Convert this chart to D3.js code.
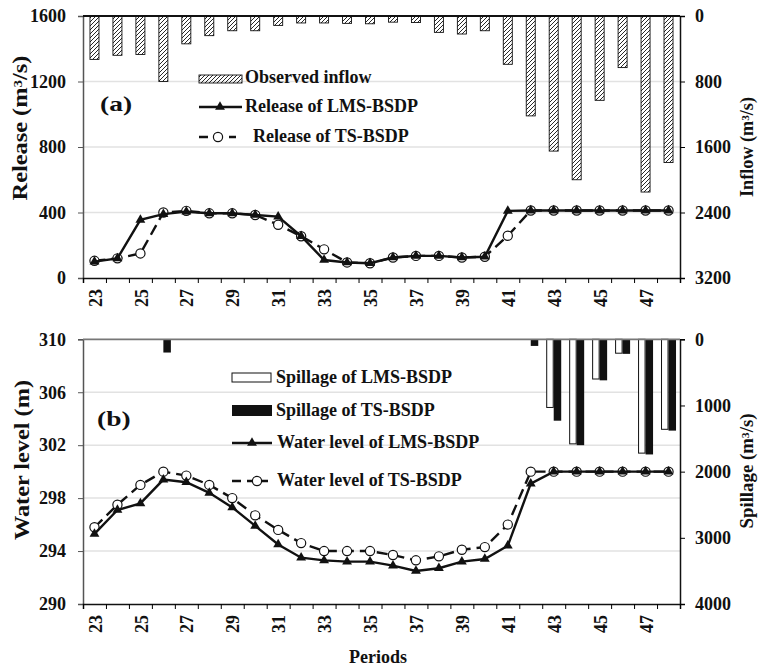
<!DOCTYPE html>
<html>
<head>
<meta charset="utf-8">
<script src="https://cdn.jsdelivr.net/npm/d3@7"></script>
<style>
  body { margin: 0; background: #fff; }
  svg text { font-family: "Liberation Serif", "Times New Roman", serif; font-weight: bold; fill: #111; }
</style>
</head>
<body>
<svg id="thesvg" width="758" height="670"></svg>
<script>
'use strict';

// periods on the x axis
let periods = [23, 24, 25, 26, 27, 28, 29, 30, 31, 32, 33, 34, 35,
               36, 37, 38, 39, 40, 41, 42, 43, 44, 45, 46, 47, 48];

// panel (a): observed inflow and releases (m3/s)
let inflow     = [530, 480, 470, 800, 340, 240, 180, 180, 115, 85, 85, 90, 95,
                  75, 80, 200, 220, 180, 590, 1220, 1650, 2000, 1030, 630, 2150, 1790];
let releaseLMS = [100, 120, 355, 390, 405, 395, 395, 385, 375, 255, 110, 95, 90,
                  125, 135, 135, 125, 130, 410, 412, 412, 412, 412, 412, 412, 412];
let releaseTS  = [105, 120, 150, 400, 410, 395, 395, 385, 325, 255, 175, 95, 90,
                  125, 135, 135, 125, 130, 258, 412, 412, 412, 412, 412, 412, 412];

// panel (b): spillage (m3/s) and water level (m)
let spillLMS = [0, 0, 0, 0, 0, 0, 0, 0, 0, 0, 0, 0, 0,
                0, 0, 0, 0, 0, 0, 0, 1030, 1580, 600, 210, 1720, 1360];
let spillTS  = [0, 0, 0, 200, 0, 0, 0, 0, 0, 0, 0, 0, 0,
                0, 0, 0, 0, 0, 0, 100, 1230, 1600, 620, 220, 1740, 1380];
let levelLMS = [295.3, 297.1, 297.6, 299.4, 299.2, 298.4, 297.3, 295.9, 294.5, 293.5, 293.3, 293.2, 293.2,
                292.9, 292.5, 292.7, 293.2, 293.4, 294.4, 299.1, 300, 300, 300, 300, 300, 300];
let levelTS  = [295.8, 297.5, 299.0, 300.0, 299.7, 299.0, 298.0, 296.7, 295.6, 294.6, 294.0, 294.0, 294.0,
                293.7, 293.3, 293.6, 294.1, 294.3, 296.0, 300, 300, 300, 300, 300, 300, 300];

let releaseTicks = [0, 400, 800, 1200, 1600],
    inflowTicks  = [0, 800, 1600, 2400, 3200],
    levelTicks   = [290, 294, 298, 302, 306, 310],
    spillTicks   = [0, 1000, 2000, 3000, 4000];

var svg = d3.select("#thesvg"),
    left = 83, right = 680,
    pa = {top: 16, bottom: 278},
    pb = {top: 339.3, bottom: 604};

var x  = d3.scaleBand().domain(periods).range([left, right]),
    xi = d3.scaleLinear().domain([0, periods.length]).range([left, right]),
    bw = x.bandwidth();

var yRel = d3.scaleLinear().domain([0, 1600]).range([pa.bottom, pa.top]),
    yIn  = d3.scaleLinear().domain([0, 3200]).range([pa.top, pa.bottom]),
    yWl  = d3.scaleLinear().domain([290, 310]).range([pb.bottom, pb.top]),
    ySp  = d3.scaleLinear().domain([0, 4000]).range([pb.top, pb.bottom]);

var defs = svg.append("defs");
defs.append("pattern")
    .attr("id", "hatch")
    .attr("patternUnits", "userSpaceOnUse")
    .attr("width", 4).attr("height", 4)
  .append("path")
    .attr("d", "M-1,1 l2,-2 M0,4 l4,-4 M3,5 l2,-2")
    .attr("stroke", "#111")
    .attr("stroke-width", 0.9);

function cx(i) { return x(periods[i]) + bw / 2; }

function grid(yS, vals) {
  svg.append("g").selectAll("line")
      .data(vals)
    .enter().append("line")
      .attr("x1", left).attr("x2", right)
      .attr("y1", function(d) { return yS(d); })
      .attr("y2", function(d) { return yS(d); })
      .attr("stroke", "#e2e2e2")
      .attr("stroke-width", 1.5);
}

function axes(yL, ticksL, yR, ticksR, bottom, topColor) {
  let fmt = d3.format("d");
  let gl = svg.append("g")
      .attr("transform", "translate(" + left + ",0)")
      .call(d3.axisLeft(yL).tickValues(ticksL).tickSize(5).tickPadding(12).tickFormat(fmt));
  gl.select(".domain").attr("stroke", "#555").attr("stroke-width", 1.5);
  gl.selectAll(".tick line").attr("stroke", "#555");

  let gr = svg.append("g")
      .attr("transform", "translate(" + right + ",0)")
      .call(d3.axisRight(yR).tickValues(ticksR).tickSize(5).tickPadding(10).tickFormat(fmt));
  gr.select(".domain").attr("stroke", "#111").attr("stroke-width", 1.5);

  svg.selectAll("g.tick text")
      .style("font-size", "18px")
      .attr("fill", "#111");

  // top line (zero of the hanging bars)
  svg.append("line")
      .attr("x1", left).attr("x2", right)
      .attr("y1", yR(0)).attr("y2", yR(0))
      .attr("stroke", topColor)
      .attr("stroke-width", 1.8);

  // x axis: ticks at band edges, labels on odd periods
  let gx = svg.append("g")
      .attr("transform", "translate(0," + bottom + ")")
      .call(d3.axisBottom(xi).ticks(periods.length).tickSize(5).tickFormat(""));
  gx.select(".domain").attr("stroke", "#111").attr("stroke-width", 1.5);

  svg.append("g").selectAll("text")
      .data(periods.filter(function(p) { return p % 2 === 1; }))
    .enter().append("text")
      .attr("transform", function(p) {
        return "translate(" + (x(p) + bw / 2 + 1) + "," + (bottom + 11) + ") rotate(-90)";
      })
      .attr("text-anchor", "end")
      .attr("dy", "0.34em")
      .style("font-size", "18px")
      .text(function(p) { return p; });
}

function series(yS, vals, solid) {
  let line = d3.line()
      .x(function(d, i) { return cx(i); })
      .y(function(d) { return yS(d); });
  svg.append("path")
      .datum(vals)
      .attr("d", line)
      .attr("fill", "none")
      .attr("stroke", "#111")
      .attr("stroke-width", 2.4)
      .attr("stroke-dasharray", solid ? null : "11,6");
  let g = svg.append("g");
  if (solid) {
    g.selectAll("path")
        .data(vals)
      .enter().append("path")
        .attr("d", d3.symbol(d3.symbolTriangle).size(42))
        .attr("transform", function(d, i) { return "translate(" + cx(i) + "," + yS(d) + ")"; })
        .attr("fill", "#111");
  } else {
    g.selectAll("circle")
        .data(vals)
      .enter().append("circle")
        .attr("cx", function(d, i) { return cx(i); })
        .attr("cy", function(d) { return yS(d); })
        .attr("r", 4.6)
        .attr("fill", "#fff")
        .attr("stroke", "#111")
        .attr("stroke-width", 1.2);
  }
}

function legLine(x0, x1, y, mx, solid) {
  svg.append("line")
      .attr("x1", x0).attr("x2", x1).attr("y1", y).attr("y2", y)
      .attr("stroke", "#111").attr("stroke-width", 2.4)
      .attr("stroke-dasharray", solid ? null : "9,6");
  if (solid) {
    svg.append("path")
        .attr("d", d3.symbol(d3.symbolTriangle).size(42))
        .attr("transform", "translate(" + mx + "," + y + ")")
        .attr("fill", "#111");
  } else {
    svg.append("circle")
        .attr("cx", mx).attr("cy", y).attr("r", 4.6)
        .attr("fill", "#fff").attr("stroke", "#111").attr("stroke-width", 1.2);
  }
}

function label(txt, x0, y0) {
  svg.append("text").attr("x", x0).attr("y", y0)
      .style("font-size", "18px").text(txt);
}

// rotated axis title stretched to the length seen in the picture
function title(parts, bx, cy, len, size) {
  let t = svg.append("text")
      .attr("text-anchor", "middle")
      .style("font-size", size + "px");
  t.append("tspan").text(parts[0]);
  if (parts.length > 1) {
    t.append("tspan").attr("dy", "-0.4em").style("font-size", "0.62em").text(parts[1]);
    t.append("tspan").attr("dy", "0.25em").text(parts[2]);
  }
  let w = t.node().getComputedTextLength();
  t.attr("transform", "translate(" + bx + "," + cy + ") rotate(-90) scale(" + (len / w) + ",1)");
}

// ---------- panel (a) ----------
grid(yRel, [400, 800, 1200]);

svg.append("g").selectAll("rect")
    .data(inflow)
  .enter().append("rect")
    .attr("x", function(d, i) { return cx(i) - 4.5; })
    .attr("y", yIn(0))
    .attr("width", 9)
    .attr("height", function(d) { return yIn(d) - yIn(0); })
    .attr("fill", "url(#hatch)")
    .attr("stroke", "#111")
    .attr("stroke-width", 0.9);

axes(yRel, releaseTicks, yIn, inflowTicks, pa.bottom, "#111");
series(yRel, releaseTS, false);
series(yRel, releaseLMS, true);

svg.append("rect")
    .attr("x", 199).attr("y", 75).attr("width", 43).attr("height", 8)
    .attr("fill", "url(#hatch)").attr("stroke", "#111").attr("stroke-width", 0.9);
label("Observed inflow", 245, 83);
legLine(199, 242, 107, 220, true);
label("Release of LMS-BSDP", 245, 112);
legLine(199, 236, 137, 218, false);
label("Release of TS-BSDP", 253, 142);

svg.append("text").attr("transform", "translate(100,111) scale(1.25,1)")
    .style("font-size", "22px").text("(a)");

title(["Release (m", "3", "/s)"], 27, 128, 145, 20);
title(["Inflow (m", "3", "/s)"], 753, 147, 100, 18);

// ---------- panel (b) ----------
grid(yWl, [294, 298, 302, 306]);

svg.append("g").selectAll("rect")
    .data(spillLMS.map(function(d, i) { return {i: i, v: d}; }).filter(function(d) { return d.v > 0; }))
  .enter().append("rect")
    .attr("x", function(d) { return cx(d.i) - 7; })
    .attr("y", ySp(0))
    .attr("width", 6.5)
    .attr("height", function(d) { return ySp(d.v) - ySp(0); })
    .attr("fill", "#fff")
    .attr("stroke", "#111")
    .attr("stroke-width", 1);

svg.append("g").selectAll("rect")
    .data(spillTS.map(function(d, i) { return {i: i, v: d}; }).filter(function(d) { return d.v > 0; }))
  .enter().append("rect")
    .attr("x", function(d) { return cx(d.i); })
    .attr("y", ySp(0))
    .attr("width", 7.5)
    .attr("height", function(d) { return ySp(d.v) - ySp(0); })
    .attr("fill", "#111");

axes(yWl, levelTicks, ySp, spillTicks, pb.bottom, "#777");
series(yWl, levelTS, false);
series(yWl, levelLMS, true);

svg.append("rect")
    .attr("x", 232).attr("y", 373).attr("width", 39).attr("height", 9)
    .attr("fill", "#fff").attr("stroke", "#111").attr("stroke-width", 1);
label("Spillage of LMS-BSDP", 276, 383);
svg.append("rect")
    .attr("x", 232).attr("y", 405).attr("width", 40).attr("height", 11)
    .attr("fill", "#111");
label("Spillage of TS-BSDP", 276, 416);
legLine(232, 272, 443, 252, true);
label("Water level of LMS-BSDP", 277, 448);
legLine(232, 268, 481, 257, false);
label("Water level of TS-BSDP", 277, 486);

svg.append("text").attr("transform", "translate(97,426) scale(1.25,1)")
    .style("font-size", "22px").text("(b)");

title(["Water level (m)"], 29, 460, 160, 20);
title(["Spillage (m", "3", "/s)"], 753, 471, 115, 18);

svg.append("text")
    .attr("x", 378).attr("y", 663)
    .attr("text-anchor", "middle")
    .style("font-size", "18px")
    .text("Periods");
</script>
</body>
</html>
